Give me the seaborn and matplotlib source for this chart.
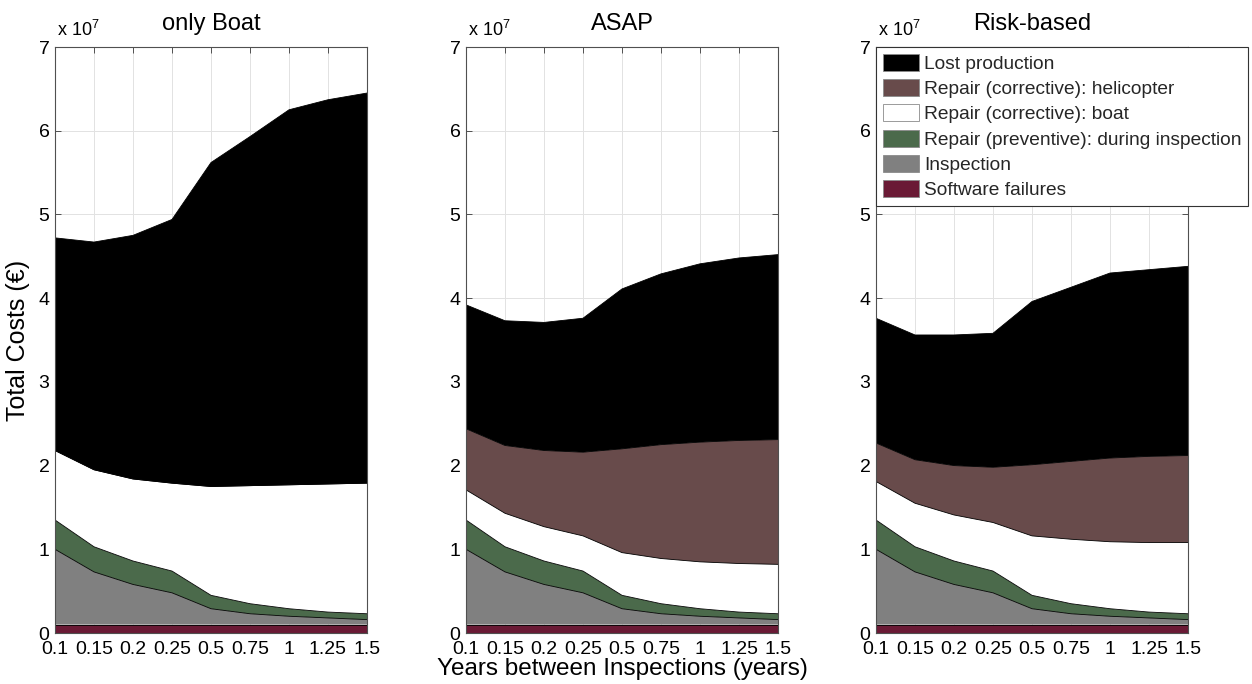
import matplotlib
matplotlib.use("Agg")
import numpy as np
import pandas as pd
import matplotlib.pyplot as plt
import seaborn as sns
from matplotlib.patches import Patch

# Inspection interval categories (evenly spaced on the x axis)
intervals = ["0.1", "0.15", "0.2", "0.25", "0.5", "0.75", "1", "1.25", "1.5"]
strategies = ["only Boat", "ASAP", "Risk-based"]

# Cost components, in units of 10^7 EUR, listed bottom to top of each stack
software_failures = [0.10, 0.10, 0.10, 0.10, 0.10, 0.10, 0.10, 0.10, 0.10]
inspection = [0.90, 0.63, 0.48, 0.38, 0.19, 0.13, 0.10, 0.08, 0.06]
preventive_repair = [0.35, 0.30, 0.28, 0.26, 0.16, 0.12, 0.09, 0.07, 0.07]

boat_only_boat = [0.83, 0.92, 0.98, 1.05, 1.30, 1.41, 1.48, 1.53, 1.56]
boat_asap = [0.36, 0.40, 0.41, 0.42, 0.51, 0.54, 0.56, 0.58, 0.59]
boat_risk = [0.46, 0.52, 0.55, 0.58, 0.71, 0.77, 0.80, 0.83, 0.85]

heli_only_boat = [0.00, 0.00, 0.00, 0.00, 0.00, 0.00, 0.00, 0.00, 0.00]
heli_asap = [0.73, 0.81, 0.91, 1.00, 1.24, 1.36, 1.43, 1.47, 1.49]
heli_risk = [0.46, 0.52, 0.59, 0.66, 0.85, 0.93, 1.00, 1.03, 1.04]

lost_only_boat = [2.54, 2.72, 2.91, 3.15, 3.87, 4.17, 4.48, 4.59, 4.66]
lost_asap = [1.48, 1.49, 1.53, 1.60, 1.91, 2.04, 2.13, 2.18, 2.21]
lost_risk = [1.49, 1.49, 1.56, 1.60, 1.95, 2.08, 2.21, 2.23, 2.26]

component_names = [
    "Software failures",
    "Inspection",
    "Repair (preventive): during inspection",
    "Repair (corrective): boat",
    "Repair (corrective): helicopter",
    "Lost production",
]
component_colors = ["#6A1A35", "#808080", "#4B6A4B", "#FFFFFF", "#684B4B", "#000000"]

boat_by_strategy = [boat_only_boat, boat_asap, boat_risk]
heli_by_strategy = [heli_only_boat, heli_asap, heli_risk]
lost_by_strategy = [lost_only_boat, lost_asap, lost_risk]

sns.set_theme(style="whitegrid")
plt.rcParams["font.family"] = ["Liberation Sans", "DejaVu Sans"]
plt.rcParams["mathtext.fontset"] = "custom"
plt.rcParams["mathtext.rm"] = "Liberation Sans"

W, H = 1252, 684
fig = plt.figure(figsize=(W / 100, H / 100), dpi=100)
fig.patch.set_facecolor("white")

lefts = [55, 466, 876]
ax_w, ax_top, ax_bot = 312, 47, 633
xpos = np.arange(len(intervals))

axes = []
for i, strat in enumerate(strategies):
    ax = fig.add_axes([lefts[i] / W, 1 - ax_bot / H, ax_w / W, (ax_bot - ax_top) / H])
    axes.append(ax)
    df = pd.DataFrame({
        "x": xpos,
        component_names[0]: software_failures,
        component_names[1]: inspection,
        component_names[2]: preventive_repair,
        component_names[3]: boat_by_strategy[i],
        component_names[4]: heli_by_strategy[i],
        component_names[5]: lost_by_strategy[i],
    })
    base = np.zeros(len(xpos))
    for name, col in zip(component_names, component_colors):
        top = base + df[name].to_numpy()
        ax.fill_between(df["x"], base, top, facecolor=col, edgecolor="none", zorder=2)
        sns.lineplot(x=df["x"], y=top, color="black", linewidth=0.6, ax=ax, zorder=3)
        base = top

    ax.set_xlim(0, len(intervals) - 1)
    ax.set_ylim(0, 7)
    ax.set_xticks(xpos)
    ax.set_xticklabels(intervals)
    ax.set_yticks(range(8))
    ax.set_yticklabels([str(v) for v in range(8)])
    ax.set_xlabel("")
    ax.set_ylabel("")
    ax.set_facecolor("white")
    ax.set_axisbelow(True)
    ax.grid(True, color="#e2e2e2", linewidth=0.7, linestyle="-")
    for sp in ax.spines.values():
        sp.set_visible(True)
        sp.set_color("#505050")
        sp.set_linewidth(0.8)
        sp.set_zorder(4)
    ax.tick_params(axis="both", which="both", direction="in", length=4, width=0.7,
                   color="#505050", top=True, right=True, bottom=True, left=True,
                   labelsize=14, labelcolor="black")
    ax.tick_params(axis="x", pad=6)
    ax.tick_params(axis="y", pad=4)
    ax.set_title(strat, fontsize=17, pad=12, color="black")
    ax.text(0.005, 1.012, r"x 10$^{7}$", transform=ax.transAxes, fontsize=13,
            ha="left", va="bottom", color="black")

axes[0].set_ylabel("Total Costs (€)", fontsize=18, color="black", labelpad=6)
axes[1].set_xlabel("Years between Inspections (years)", fontsize=17.5, color="black", labelpad=0)

handles = [Patch(facecolor=c, edgecolor="#8a8a8a", linewidth=0.6)
           for c in component_colors[::-1]]
leg = fig.legend(handles, component_names[::-1], loc="upper left",
                 bbox_to_anchor=(876 / W, 1 - 47 / H), borderaxespad=0,
                 fontsize=13.8, frameon=True, fancybox=False, framealpha=1,
                 edgecolor="#333333", handlelength=1.9, handleheight=1.0,
                 handletextpad=0.25, labelspacing=0.32, borderpad=0.35)
leg.get_frame().set_linewidth(0.8)

fig.savefig("out.png", dpi=100, facecolor="white")
